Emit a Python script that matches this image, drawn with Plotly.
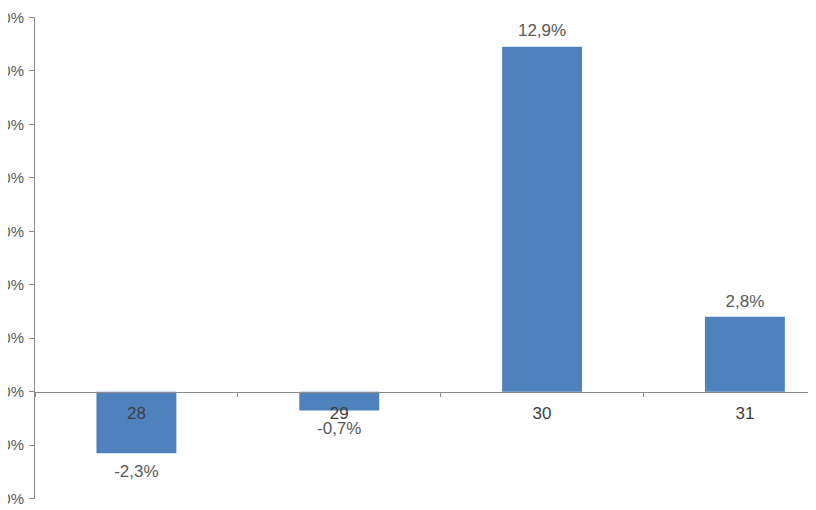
import plotly.graph_objects as go

categories = ["28", "29", "30", "31"]
values = [-2.3, -0.7, 12.9, 2.8]
y_min, y_max, y_step = -4, 14, 2

FONT = "Liberation Sans, Arial, sans-serif"

fig = go.Figure()
fig.add_trace(go.Bar(
    x=categories,
    y=values,
    marker=dict(color="#4F81BD", line=dict(width=0)),
    hoverinfo="skip",
))
fig.add_trace(go.Scatter(
    x=categories,
    y=values,
    mode="markers+text",
    marker=dict(size=[16 if v < 0 else 8 for v in values], opacity=0),
    text=[f"{v:.1f}%".replace(".", ",") for v in values],
    textposition=["bottom center" if v < 0 else "top center" for v in values],
    textfont=dict(family=FONT, size=17, color="#595959"),
    cliponaxis=False,
))

zero_pos = (0 - y_min) / (y_max - y_min)

fig.update_layout(
    width=816, height=510,
    margin=dict(l=27, r=0, t=9, b=19, autoexpand=False),
    paper_bgcolor="white", plot_bgcolor="white",
    separators=",.",
    showlegend=False,
    bargap=0.606,
    font=dict(family=FONT, size=17, color="#595959"),
    xaxis=dict(
        type="category",
        range=[-0.5, 3.39],
        anchor="free", position=zero_pos,
        showline=True, linecolor="#8c8c8c", linewidth=1,
        ticks="outside", tickson="boundaries", ticklen=4, tickcolor="#8c8c8c",
        showgrid=False, zeroline=False,
        tickfont=dict(family=FONT, size=17, color="#404040"),
        ticklabelstandoff=6,
        automargin=False,
    ),
    yaxis=dict(
        range=[y_min - 0.01, y_max + 0.01],
        dtick=y_step, tick0=0,
        tickformat=".1f", ticksuffix="%",
        showline=True, linecolor="#8c8c8c", linewidth=1,
        ticks="outside", ticklen=5, tickcolor="#8c8c8c",
        showgrid=False, zeroline=False,
        ticklabelstandoff=2,
        tickfont=dict(family=FONT, size=15, color="#595959"),
        automargin=False,
    ),
)

fig.write_html("out.html")
